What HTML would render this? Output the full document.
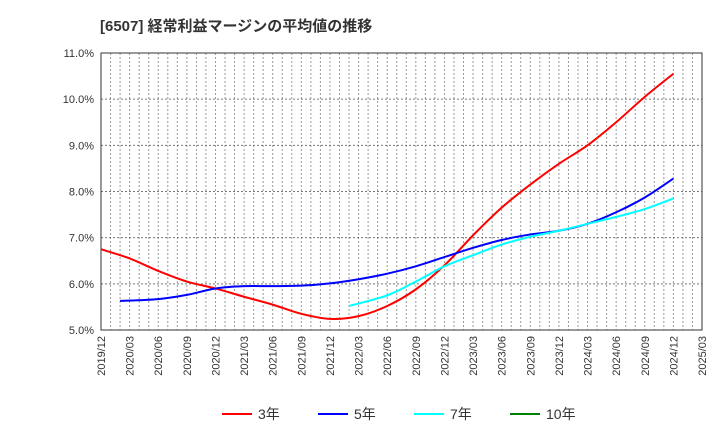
<!DOCTYPE html>
<html><head><meta charset="utf-8"><style>
body{margin:0;background:#fff;font-family:"Liberation Sans","Noto Sans CJK JP",sans-serif;}
svg{display:block}
</style></head><body>
<svg id="c" width="720" height="440">
<text x="100" y="31" font-size="15" font-weight="bold" fill="#333">[6507]  経常利益マージンの平均値の推移</text>
</svg>
<script>
const xLabels=["2019/12","2020/03","2020/06","2020/09","2020/12","2021/03","2021/06","2021/09","2021/12","2022/03","2022/06","2022/09","2022/12","2023/03","2023/06","2023/09","2023/12","2024/03","2024/06","2024/09","2024/12","2025/03"];
const yTicks=[5,6,7,8,9,10,11];
const s3=[6.75,6.55,6.28,6.05,5.9,5.72,5.55,5.35,5.24,5.3,5.52,5.88,6.4,7.05,7.65,8.15,8.6,9.0,9.5,10.05,10.55];
const s5=[null,5.63,5.67,5.76,5.9,5.95,5.95,5.96,6.01,6.1,6.22,6.38,6.58,6.78,6.95,7.07,7.15,7.3,7.55,7.87,8.28];
const s7=[null,null,null,null,null,null,null,null,null,5.52,5.75,6.05,6.38,6.62,6.85,7.02,7.15,7.3,7.45,7.62,7.85];
const s10=[];
// first point of 5y / 7y series sits one month before the quarter (months back)
const s5FirstShift=[1];
const s7FirstShift=[1];
const svg=document.getElementById('c');const NS='http://www.w3.org/2000/svg';
const L=101,R=702,T=53,B=330,ymin=5,ymax=11;
const X=i=>L+(R-L)*i/(xLabels.length-1);
const Y=v=>B-(B-T)*(v-ymin)/(ymax-ymin);
function mk(t,a){const e=document.createElementNS(NS,t);for(const k in a)e.setAttribute(k,a[k]);svg.appendChild(e);return e;}
for(let m=1;m<(xLabels.length-1)*3;m++){const x=L+(R-L)*m/((xLabels.length-1)*3);
const g=mk('line',{x1:x,x2:x,y1:T,y2:B,stroke:'#999','stroke-dasharray':'2,2','stroke-width':1});

}
yTicks.forEach(v=>{const g=mk('line',{x1:L,x2:R,y1:Y(v),y2:Y(v),stroke:'#777','stroke-dasharray':'2,2','stroke-width':1});


const t=mk('text',{x:L-7,y:Y(v)+4,'text-anchor':'end','font-size':11,fill:'#333'});t.textContent=v.toFixed(1)+'%';

});
const fr=mk('rect',{x:L,y:T,width:R-L,height:B-T,fill:'none',stroke:'#333','stroke-width':1});


xLabels.forEach((l,i)=>{const x=X(i);const t=mk('text',{transform:`translate(${x+4},${B+6}) rotate(-90)`,'text-anchor':'end','font-size':11,fill:'#333'});t.textContent=l;

});
function path(arr,shift){const p=[];arr.forEach((v,i)=>{if(v!=null)p.push([X(i),Y(v)]);});if(p.length<2)return '';
if(shift)p[0][0]-=shift*(R-L)/((xLabels.length-1)*3);
let d=`M${p[0][0]},${p[0][1]}`;for(let i=0;i<p.length-1;i++){const p0=p[i-1]||p[i],p1=p[i],p2=p[i+1],p3=p[i+2]||p2;
d+=` C${p1[0]+(p2[0]-p0[0])/6},${p1[1]+(p2[1]-p0[1])/6} ${p2[0]-(p3[0]-p1[0])/6},${p2[1]-(p3[1]-p1[1])/6} ${p2[0]},${p2[1]}`;}return d;}
[[s3,'#ff0000','series-3y',0],[s5,'#0000ff','series-5y',s5FirstShift[0]],[s7,'#00ffff','series-7y',s7FirstShift[0]],[s10,'#008000','series-10y',0]].forEach(([a,c,n,sh])=>{const d=path(a,sh);if(!d)return;
const e=mk('path',{d:d,fill:'none',stroke:c,'stroke-width':2});

});
const leg=[['3年','#ff0000',222],['5年','#0000ff',318],['7年','#00ffff',414],['10年','#008000',510]];
leg.forEach(([t,c,x])=>{const l=mk('line',{x1:x,x2:x+30,y1:414,y2:414,stroke:c,'stroke-width':2});


const tx=mk('text',{x:x+36,y:419,'font-size':14,fill:'#333'});tx.textContent=t;

});
</script>
</body></html>
